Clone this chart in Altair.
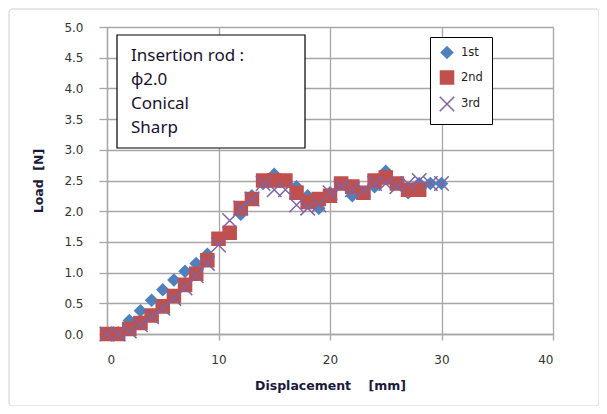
import altair as alt
import pandas as pd

x_1st = list(range(0, 31))
load_1st = [0.0, 0.02, 0.22, 0.38, 0.55, 0.72, 0.88, 1.02, 1.15, 1.3, 1.55,
            1.65, 1.95, 2.25, 2.45, 2.6, 2.5, 2.4, 2.25, 2.05, 2.3, 2.45,
            2.25, 2.3, 2.4, 2.65, 2.45, 2.3, 2.45, 2.45, 2.45]
x_2nd = list(range(0, 29))
load_2nd = [0.0, 0.0, 0.08, 0.18, 0.3, 0.45, 0.62, 0.8, 0.98, 1.2, 1.55,
            1.65, 2.05, 2.2, 2.5, 2.5, 2.5, 2.3, 2.15, 2.2, 2.25, 2.45,
            2.4, 2.3, 2.5, 2.55, 2.45, 2.35, 2.35]
x_3rd = list(range(0, 31))
load_3rd = [0.0, 0.0, 0.05, 0.15, 0.28, 0.42, 0.58, 0.75, 0.95, 1.15, 1.45,
            1.85, 2.05, 2.2, 2.45, 2.35, 2.35, 2.1, 2.05, 2.1, 2.3, 2.4,
            2.35, 2.35, 2.45, 2.45, 2.4, 2.45, 2.5, 2.45, 2.45]
series_names = ["1st", "2nd", "3rd"]
x_ticks = [0, 10, 20, 30, 40]
y_ticks = [0.0, 0.5, 1.0, 1.5, 2.0, 2.5, 3.0, 3.5, 4.0, 4.5, 5.0]
box_text = "Insertion rod :\nϕ2.0\nConical\nSharp"
x_title = "Displacement\u00a0\u00a0\u00a0\u00a0[mm]"
y_title = "Load\u00a0\u00a0[N]"

rows = []
for name, xs, ys in zip(series_names, [x_1st, x_2nd, x_3rd], [load_1st, load_2nd, load_3rd]):
    for xv, yv in zip(xs, ys):
        rows.append({"series": name, "disp": xv, "load": yv})
df = pd.DataFrame(rows)

colors = ["#4F81BD", "#C0504D", "#8064A2"]
shapes = ["diamond", "square", "M-1,-1L1,1M-1,1L1,-1"]
sizes = [130, 210, 110]

W, H = 446, 307
FONT = "DejaVu Sans"
BOXFONT = "Noto Sans"

legend = alt.Legend(title=None, orient="none", legendX=323, legendY=10,
                    strokeColor="#000000", fillColor="white", padding=9,
                    rowPadding=5, labelFontSize=11.5, labelFont=FONT,
                    labelColor="#222222", symbolStrokeWidth=1.5, labelOffset=6)

points = alt.Chart(df).mark_point(filled=True, strokeWidth=1.5, opacity=1).encode(
    x=alt.X("disp:Q", scale=alt.Scale(domain=[0, 40], nice=False),
            axis=alt.Axis(values=x_ticks, title=x_title, format="d")),
    y=alt.Y("load:Q", scale=alt.Scale(domain=[0, 5], nice=False),
            axis=alt.Axis(values=y_ticks, title=y_title, format=".1f")),
    fill=alt.Fill("series:N", scale=alt.Scale(domain=series_names, range=colors), legend=legend),
    stroke=alt.Stroke("series:N", scale=alt.Scale(domain=series_names, range=colors), legend=legend),
    shape=alt.Shape("series:N", scale=alt.Scale(domain=series_names, range=shapes), legend=legend),
    size=alt.Size("series:N", scale=alt.Scale(domain=series_names, range=sizes), legend=legend),
    order=alt.Order("series:N"),
)

one = pd.DataFrame({"t": [box_text]})

text_box = alt.Chart(one).mark_rect(fill="white", stroke="#000000", strokeWidth=1.2).encode(
    x=alt.value(10), x2=alt.value(198), y=alt.value(8), y2=alt.value(121)
)
text_lines = alt.Chart(one).mark_text(
    align="left", baseline="top", lineBreak="\n", lineHeight=24,
    fontSize=17, font=BOXFONT, color="#1a1030"
).encode(x=alt.value(24), y=alt.value(21), text="t:N")

border = alt.Chart(one).mark_rect(fill=None, stroke="#d0d0d0", strokeWidth=1, cornerRadius=3).encode(
    x=alt.value(-98), x2=alt.value(492), y=alt.value(-18), y2=alt.value(379)
)

chart = alt.layer(border, points, text_box, text_lines).properties(
    width=W, height=H,
    autosize=alt.AutoSizeParams(type="none"),
    padding={"left": 99, "top": 19, "right": 46, "bottom": 72},
).configure_view(stroke=None).configure_axis(
    grid=True, gridColor="#a6a6a6", gridWidth=1.3,
    domainColor="#a6a6a6", domainWidth=1.3,
    tickColor="#a6a6a6", tickWidth=1.3,
    labelFont=FONT, labelFontSize=12, labelColor="#333333",
    titleFont=FONT, titleFontSize=12.5, titleFontWeight="bold", titleColor="#1a1a3a",
).configure_axisY(
    tickSize=8, labelPadding=16, titlePadding=18,
).configure_axisX(
    tickSize=6, labelPadding=14, titlePadding=14,
)

chart.save("out.html", embed_options={"renderer": "svg", "actions": False})
